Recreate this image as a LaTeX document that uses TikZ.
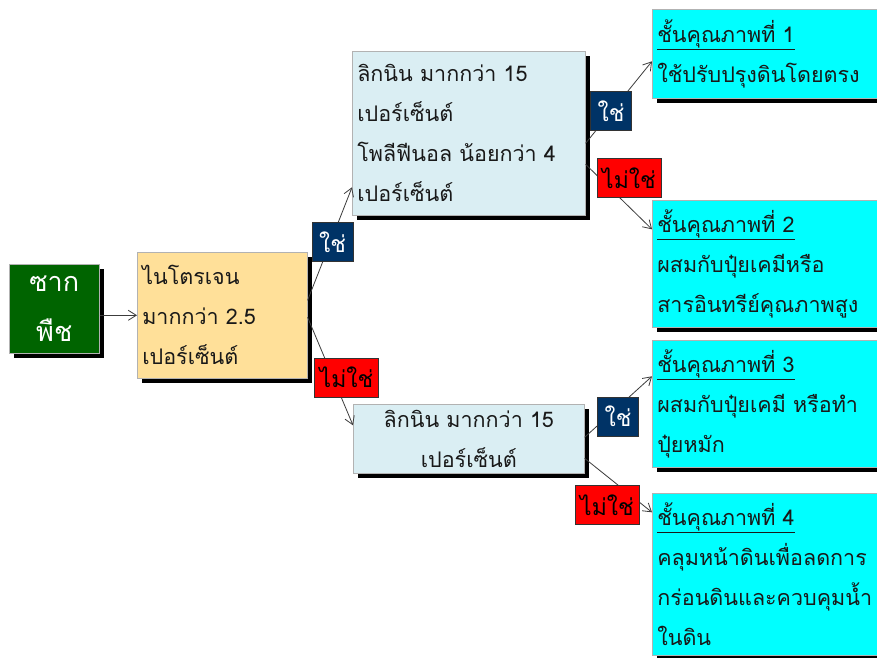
\documentclass[tikz,border=0pt]{standalone}
\usepackage{fontspec}
\newfontfamily\thaifont[Script=Thai]{Loma}
\usetikzlibrary{arrows.meta,shadows}
\definecolor{boxgreen}{RGB}{0,100,0}
\definecolor{boxorange}{RGB}{255,224,153}
\definecolor{boxblue}{RGB}{218,238,243}
\definecolor{boxcyan}{RGB}{0,255,255}
\definecolor{lblnavy}{RGB}{0,51,102}
\definecolor{lblred}{RGB}{255,0,0}
\definecolor{linegray}{RGB}{60,60,60}
\begin{document}
\begin{tikzpicture}[x=1pt,y=-1pt,
  box/.style={draw=gray!60, line width=0.6pt, inner sep=0pt, anchor=north west,
    font=\thaifont\fontsize{21.5}{40}\selectfont, text=black!90,
    general shadow={fill=black, shadow xshift=5pt, shadow yshift=-5pt}},
  lbl/.style={draw=gray!40!black, line width=0.5pt, inner sep=0pt,
    font=\thaifont\fontsize{23}{23}\selectfont, minimum height=39pt},
  yeslbl/.style={lbl, fill=lblnavy, text=white, minimum width=41pt},
  nolbl/.style={lbl, fill=lblred, text=black, minimum width=64pt},
  conn/.style={draw=linegray, line width=0.8pt, -{Straight Barb[length=8pt,width=10pt]}},
]
\useasboundingbox (0,0) rectangle (877,657);
\clip (0,0) rectangle (877,657);
\fill[white] (0,0) rectangle (877,657);

% main boxes
\node[box, fill=boxgreen, text=white, minimum width=90pt, minimum height=89pt,
  text width=90pt, align=center, font=\thaifont\fontsize{27}{50}\selectfont]
  (plant) at (9,264) {ซาก\\พืช};
\node[box, fill=boxorange, minimum width=170pt, minimum height=126pt,
  text width=160pt, align=left] (nitro) at (137,252)
  {ไนโตรเจน\\มากกว่า 2.5\\เปอร์เซ็นต์};
\node[box, fill=boxblue, minimum width=233pt, minimum height=164pt,
  text width=223pt, align=left] (ligup) at (352,51)
  {ลิกนิน มากกว่า 15\\เปอร์เซ็นต์\\โพลีฟีนอล น้อยกว่า 4\\เปอร์เซ็นต์};
\node[box, fill=boxblue, minimum width=231pt, minimum height=69pt,
  text width=221pt, align=center] (liglo) at (353,404)
  {ลิกนิน มากกว่า 15\\เปอร์เซ็นต์};

\node[box, fill=boxcyan, minimum width=240pt, minimum height=89pt,
  text width=230pt, align=left] (c1) at (652,9)
  {\underline{ชั้นคุณภาพที่ 1}\\ใช้ปรับปรุงดินโดยตรง};
\node[box, fill=boxcyan, minimum width=240pt, minimum height=127pt,
  text width=230pt, align=left] (c2) at (652,200)
  {\underline{ชั้นคุณภาพที่ 2}\\ผสมกับปุ๋ยเคมีหรือ\\สารอินทรีย์คุณภาพสูง};
\node[box, fill=boxcyan, minimum width=240pt, minimum height=127pt,
  text width=230pt, align=left] (c3) at (652,340)
  {\underline{ชั้นคุณภาพที่ 3}\\ผสมกับปุ๋ยเคมี หรือทำ\\ปุ๋ยหมัก};
\node[box, fill=boxcyan, minimum width=240pt, minimum height=162pt,
  text width=230pt, align=left] (c4) at (652,493)
  {\underline{ชั้นคุณภาพที่ 4}\\คลุมหน้าดินเพื่อลดการ\\กร่อนดินและควบคุมน้ำ\\ในดิน};

% connectors
\draw[conn] (plant.east |- nitro.west) -- (nitro.west);
\draw[conn] ([yshift=15pt]nitro.east) -- ([yshift=-54pt]ligup.west);
\draw[conn] ([yshift=-2pt]nitro.east) -- ([yshift=13.5pt]liglo.west);
\draw[conn] ([yshift=-10pt]ligup.east) -- ([yshift=-7.5pt]c1.west);
\draw[conn] ([yshift=-31pt]ligup.east) -- ([yshift=34.5pt]c2.west);
\draw[conn] ([yshift=1.5pt]liglo.east) -- ([yshift=27.5pt]c3.west);
\draw[conn] ([yshift=-19.5pt]liglo.east) -- ([yshift=62pt]c4.west);

% labels
\node[yeslbl] (y1) at (332.5,242) {ใช่};
\node[nolbl] (n1) at (346.5,377.5) {ไม่ใช่};
\node[yeslbl] (y2) at (611,111) {ใช่};
\node[nolbl] (n2) at (629,178) {ไม่ใช่};
\node[yeslbl] (y3) at (618,416.5) {ใช่};
\node[nolbl] (n3) at (607,505) {ไม่ใช่};
\end{tikzpicture}
\end{document}
